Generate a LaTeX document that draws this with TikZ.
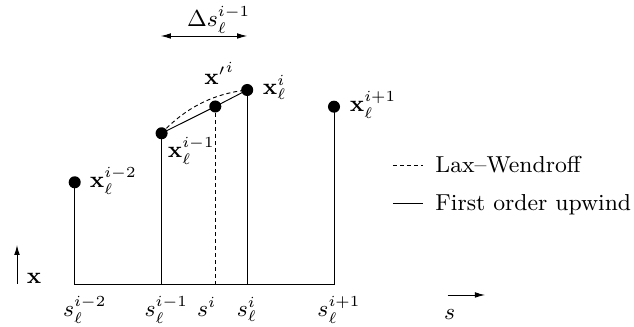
\documentclass[tikz,border=0pt]{standalone}
\usetikzlibrary{arrows.meta}
\begin{document}
\begin{tikzpicture}[x=0.39pt,y=-0.39pt,
  line width=0.36pt,
  every node/.style={font=\fontsize{9}{11}\selectfont,inner sep=0pt},
  dot/.style={circle,fill=black,minimum size=4.7pt,inner sep=0pt},
  lw/.style={dash pattern=on 1.56pt off 1.17pt},
  tip/.style={-{Latex[length=3.9pt,width=2.2pt]}},
  dtip/.style={{Latex[length=3.9pt,width=2.2pt]}-{Latex[length=3.9pt,width=2.2pt]}}]
\useasboundingbox (0,0) rectangle (634,327);
% dots
\node[dot] (d2) at (74.7,182.3) {};
\node[dot] (d1) at (161.6,133.3) {};
\node[dot] (dm) at (215.3,106.5) {};
\node[dot] (d0) at (247.2,90) {};
\node[dot] (dp) at (334,106.7) {};
% base coordinates
\coordinate (b2) at (74.7,284);
\coordinate (b1) at (161.6,284);
\coordinate (bm) at (215.3,284);
\coordinate (b0) at (247.2,284);
\coordinate (bp) at (334,284);
% verticals and baseline
\draw (d2.center) -- (b2) -- (bp) -- (dp.center);
\draw (d1.center) -- (b1);
\draw (d0.center) -- (b0);
\draw[lw] (dm.center) -- (bm);
% upwind segment and Lax-Wendroff curve
\draw (d1.center) -- (dm.center) -- (d0.center);
\draw[lw] (d1.center) .. controls (185.1,108) and (213.7,93.5) .. (d0.center);
% point labels
\node[anchor=base west] (l2) at (89.5,187.3) {$\mathbf{x}_\ell^{i-2}$};
\node[anchor=base west] (l1) at (167.5,157.3) {$\mathbf{x}_\ell^{i-1}$};
\node[anchor=base west] (lm) at (204,85) {${\mathbf{x}'}^{i}$};
\node[anchor=base west] (l0) at (262.5,95) {$\mathbf{x}_\ell^{i}$};
\node[anchor=base west] (lp) at (349.5,111.7) {$\mathbf{x}_\ell^{i+1}$};
% delta s
\node[anchor=base west] (ds) at (186.7,27) {$\Delta s_\ell^{i-1}$};
\coordinate (da) at (160.8,36);
\coordinate (db) at (247.2,36);
\draw[dtip] (da) -- (db);
% bottom labels
\node[anchor=base west] (s2) at (62.6,317) {$s_\ell^{i-2}$};
\node[anchor=base west] (s1) at (144.2,317) {$s_\ell^{i-1}$};
\node[anchor=base west] (sm) at (196.7,317) {$s^{i}$};
\node[anchor=base west] (s0) at (236.3,317) {$s_\ell^{i}$};
\node[anchor=base west] (sp) at (317,317) {$s_\ell^{i+1}$};
% axes
\coordinate (xa0) at (17,284);
\coordinate (xa1) at (17,245);
\draw[tip] (xa0) -- (xa1);
\node[anchor=base west] (xl) at (26.3,283.3) {$\mathbf{x}$};
\coordinate (sa0) at (447.6,295);
\coordinate (sa1) at (485,295);
\draw[tip] (sa0) -- (sa1);
\node[anchor=base west] (sl) at (443.6,320) {$s$};
% legend
\coordinate (la0) at (393,165);
\coordinate (la1) at (423,165);
\draw[lw] (la0) -- (la1);
\node[anchor=base west] (lt1) at (435,172.5) {Lax--Wendroff};
\coordinate (lb0) at (393,203.3);
\coordinate (lb1) at (423,203.3);
\draw (lb0) -- (lb1);
\node[anchor=base west] (lt2) at (435,210.7) {First order upwind};
\end{tikzpicture}
\end{document}
